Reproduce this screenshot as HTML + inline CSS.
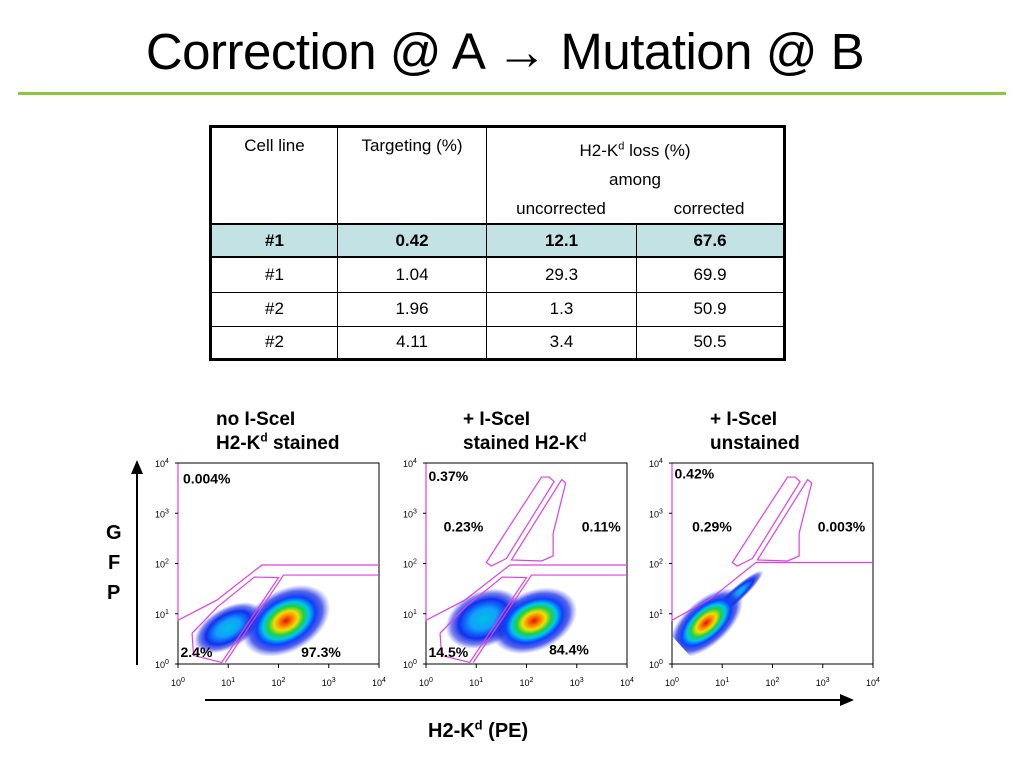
<!DOCTYPE html>
<html><head><meta charset="utf-8">
<style>
body{margin:0;width:1024px;height:768px;background:#fff;font-family:"Liberation Sans",sans-serif;position:relative;overflow:hidden}
.abs{position:absolute}
table{border-collapse:collapse;position:absolute;left:209px;top:125px;width:577px;border:3px solid #000;font-size:17px;table-layout:fixed}
td{border:1px solid #000;text-align:center;padding:0}
.hl td{background:#c3e2e4;font-weight:bold;border-top:2px solid #000;border-bottom:2px solid #000}
.ttl{font-weight:bold;font-size:19px;line-height:24px}
.gfp{font-weight:bold;font-size:20px;left:106px}
</style></head><body>
<div class="abs" style="left:0;width:1010px;top:22px;text-align:center;font-size:51px;letter-spacing:-0.5px">Correction @ A → Mutation @ B</div>
<div class="abs" style="left:18px;top:92px;width:988px;height:3px;background:#8dc63f"></div>

<table>
<colgroup><col style="width:127px"><col style="width:149px"><col style="width:150px"><col></colgroup>
<tr style="height:97px;vertical-align:top"><td style="padding-top:8px">Cell line</td><td style="padding-top:8px">Targeting (%)</td><td colspan="2" style="padding-top:8px;line-height:29px">H2-K<sup style="font-size:11px;line-height:0">d</sup> loss (%)<br>among<div style="display:flex"><span style="flex:1">uncorrected</span><span style="flex:1">corrected</span></div></td></tr>
<tr class="hl" style="height:33px"><td>#1</td><td>0.42</td><td>12.1</td><td>67.6</td></tr>
<tr style="height:35px"><td>#1</td><td>1.04</td><td>29.3</td><td>69.9</td></tr>
<tr style="height:34px"><td>#2</td><td>1.96</td><td>1.3</td><td>50.9</td></tr>
<tr style="height:33px"><td>#2</td><td>4.11</td><td>3.4</td><td>50.5</td></tr>
</table>

<div class="abs ttl" style="left:216px;top:408px">no I-SceI<br>H2-K<sup style="font-size:12px;line-height:0">d</sup> stained</div>
<div class="abs ttl" style="left:463px;top:408px">+ I-SceI<br>stained H2-K<sup style="font-size:12px;line-height:0">d</sup></div>
<div class="abs ttl" style="left:710px;top:408px">+ I-SceI<br>unstained</div>

<div class="abs gfp" style="top:522px">G</div>
<div class="abs gfp" style="top:552px;left:108px">F</div>
<div class="abs gfp" style="top:582px;left:107px">P</div>
<div class="abs" style="left:428px;top:720px;font-weight:bold;font-size:20px">H2-K<sup style="font-size:13px;line-height:0">d</sup> (PE)</div>

<svg id="svg" class="abs" style="left:0;top:0" width="1024" height="768">
<defs>
<radialGradient id="blob">
<stop offset="0" stop-color="#e01010"/>
<stop offset="0.15" stop-color="#ff8000"/>
<stop offset="0.27" stop-color="#f0e000"/>
<stop offset="0.4" stop-color="#20d040"/>
<stop offset="0.52" stop-color="#00c8e8"/>
<stop offset="0.66" stop-color="#1040ff"/>
<stop offset="0.82" stop-color="#2030e0" stop-opacity="0.75"/>
<stop offset="1" stop-color="#4050ff" stop-opacity="0"/>
</radialGradient>
<radialGradient id="blobBlue">
<stop offset="0" stop-color="#00c0e0"/>
<stop offset="0.35" stop-color="#10a0ff"/>
<stop offset="0.65" stop-color="#1030f0"/>
<stop offset="0.85" stop-color="#2030e0" stop-opacity="0.6"/>
<stop offset="1" stop-color="#3040ff" stop-opacity="0"/>
</radialGradient>
<marker id="arr" markerWidth="8" markerHeight="8" refX="6" refY="4" orient="auto"><path d="M0,1 L7,4 L0,7 z" fill="#000"/></marker>
</defs>
<line x1="137" y1="665" x2="137" y2="462" stroke="#000" stroke-width="2" marker-end="url(#arr)"/>
<line x1="205" y1="700" x2="852" y2="700" stroke="#000" stroke-width="2" marker-end="url(#arr)"/>
</svg>

<script>
const plotLeft=[178,426,672];
const plotTop=463, plotSize=201;
const decades=[0,1,2,3,4];
// clusters: [x(log), y(log), rx, ry, angle, type]
const clusters1=[[1.0,0.72,0.75,0.4,-30,'b'],[2.15,0.86,0.95,0.62,-30,'c']];
const clusters2=[[1.15,0.9,0.8,0.55,-25,'b'],[2.15,0.86,0.9,0.6,-25,'c']];
const clusters3=[[1.25,1.35,0.75,0.14,-42,'b'],[0.68,0.82,0.9,0.45,-42,'c']];
const labels1=[['0.004%',0.1,3.55],['2.4%',0.05,0.1],['97.3%',2.45,0.1]];
const labels2=[['0.37%',0.05,3.6],['0.23%',0.35,2.6],['0.11%',3.1,2.6],['14.5%',0.05,0.1],['84.4%',2.45,0.15]];
const labels3=[['0.42%',0.05,3.65],['0.29%',0.4,2.6],['0.003%',2.9,2.6]];
const gateUpper1=[[0,3.99],[0,0.87],[0.77,1.27],[1.67,1.97],[4,1.97]];
const gateLeft1=[[0.28,0.61],[0.79,1.14],[1.52,1.73],[2.0,1.72],[0.87,0.03],[0.31,0.17]];
const gateRight1=[[0.94,0.03],[2.1,1.77],[4,1.77]];
const gateUpper2=gateUpper1;
const gateLeft2=gateLeft1;
const gateRight2=gateRight1;
const gateDiagA=[[1.2,2.02],[1.3,1.95],[1.6,2.1],[2.55,3.63],[2.45,3.72],[2.3,3.72],[1.7,2.8]];
const gateDiagB=[[1.7,2.07],[2.7,3.67],[2.78,3.6],[2.53,2.6],[2.53,2.15],[2.3,2.05]];
const gateUpper3=[[0,3.99],[0,0.87],[0.77,1.3],[1.67,2.02],[4,2.02]];
const svg=document.getElementById('svg');
const NS='http://www.w3.org/2000/svg';
function mk(t,a){const e=document.createElementNS(NS,t);for(const k in a)e.setAttribute(k,a[k]);svg.appendChild(e);return e;}
function X(p,v){return plotLeft[p]+v*plotSize/4;}
function Y(v){return plotTop+plotSize-v*plotSize/4;}
function poly(p,pts,closed,name){
  const e=mk(closed?'polygon':'polyline',{points:pts.map(q=>X(p,q[0])+','+Y(q[1])).join(' '),fill:'none',stroke:'#e040e0','stroke-width':1.2});
  
  
}
function drawPlot(p,clusters,labels,gates){
  const L=plotLeft[p];
  const fr=mk('rect',{x:L,y:plotTop,width:plotSize,height:plotSize,fill:'#fff',stroke:'#000','stroke-width':1});
  
  
  const cp=mk('clipPath',{id:'cp'+p});
  const cr=document.createElementNS(NS,'rect');
  cr.setAttribute('x',L);cr.setAttribute('y',plotTop);cr.setAttribute('width',plotSize);cr.setAttribute('height',plotSize);
  cp.appendChild(cr);
  clusters.forEach((c,i)=>{
    const cx=X(p,c[0]),cy=Y(c[1]);
    const e=mk('ellipse',{cx:cx,cy:cy,rx:c[2]*plotSize/4,ry:c[3]*plotSize/4,fill:c[5]=='c'?'url(#blob)':'url(#blobBlue)',transform:`rotate(${c[4]} ${cx} ${cy})`,'clip-path':'url(#cp'+p+')'});
    
    
  });
  gates.forEach((g,i)=>poly(p,g[0],g[1],'plot'+(p+1)+'-gate-'+i));
  decades.forEach(d=>{
    const ty=mk('line',{x1:L-3,x2:L,y1:Y(d),y2:Y(d),stroke:'#000'});
    
    
    const tx=mk('line',{x1:X(p,d),x2:X(p,d),y1:plotTop+plotSize,y2:plotTop+plotSize+4,stroke:'#000'});
    
    
    const a=mk('text',{x:L-23,y:Y(d)+4,'font-size':9,'font-family':'Liberation Sans'});
    a.innerHTML='10<tspan dy="-4" font-size="7">'+d+'</tspan>';
    
    
    const b=mk('text',{x:X(p,d)-7,y:plotTop+plotSize+22,'font-size':9,'font-family':'Liberation Sans'});
    b.innerHTML='10<tspan dy="-4" font-size="7">'+d+'</tspan>';
    
    
  });
  labels.forEach(l=>{
    const t=mk('text',{x:X(p,l[1]),y:Y(l[2])-2,'font-size':14,'font-weight':'bold','font-family':'Liberation Sans'});
    t.textContent=l[0];
    
    
  });
}
drawPlot(0,clusters1,labels1,[[gateUpper1,false],[gateLeft1,true],[gateRight1,false]]);
drawPlot(1,clusters2,labels2,[[gateUpper2,false],[gateLeft2,true],[gateRight2,false],[gateDiagA,true],[gateDiagB,true]]);
drawPlot(2,clusters3,labels3,[[gateUpper3,false],[gateDiagA,true],[gateDiagB,true]]);
</script>
</body></html>
